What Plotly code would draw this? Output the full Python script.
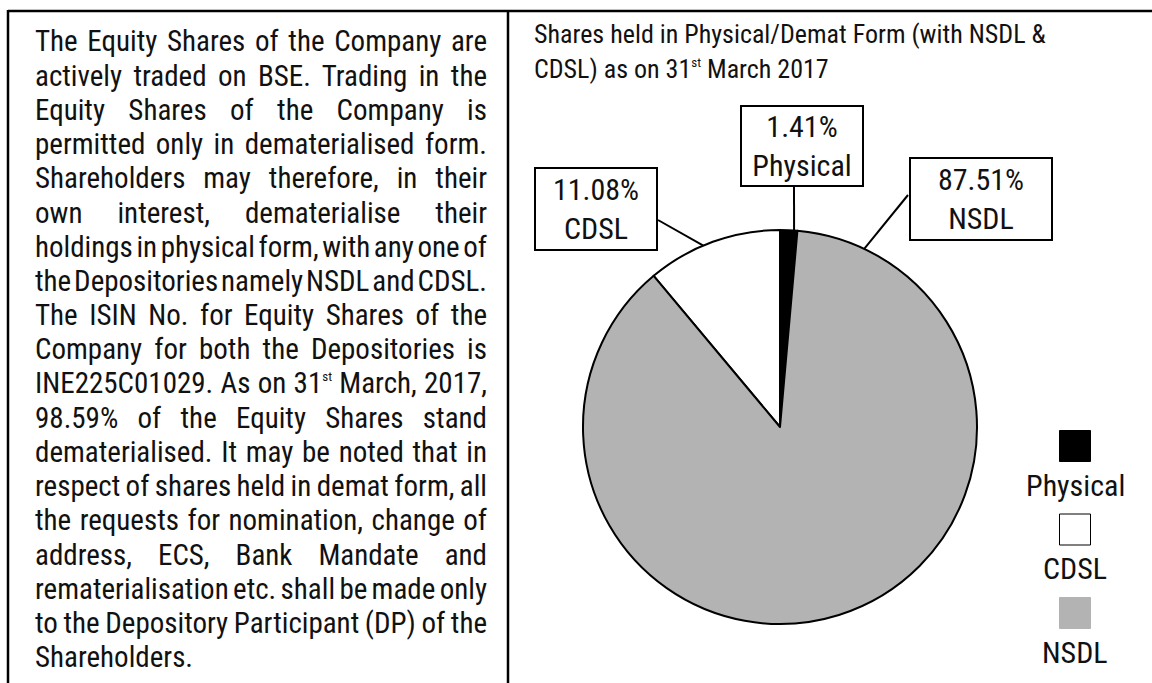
import json
import math
import plotly.graph_objects as go

# ---------------- data ----------------
labels = ["Physical", "CDSL", "NSDL"]
values = [1.41, 11.08, 87.51]
colors = ["#000000", "#ffffff", "#b3b3b3"]

SUP = '<sup><span style="font-size:13px">st</span></sup>'

title_lines = [
    "Shares held in Physical/Demat Form (with NSDL &",
    "CDSL) as on 31" + SUP + " March 2017",
]

body_lines = [
    "The Equity Shares of the Company are",
    "actively traded on BSE. Trading in the",
    "Equity Shares of the Company is",
    "permitted only in dematerialised form.",
    "Shareholders may therefore, in their",
    "own interest, dematerialise their",
    "holdings in physical form, with any one of",
    "the Depositories namely NSDL and CDSL.",
    "The ISIN No. for Equity Shares of the",
    "Company for both the Depositories is",
    "INE225C01029. As on 31" + SUP + " March, 2017,",
    "98.59% of the Equity Shares stand",
    "dematerialised. It may be noted that in",
    "respect of shares held in demat form, all",
    "the requests for nomination, change of",
    "address, ECS, Bank Mandate and",
    "rematerialisation etc. shall be made only",
    "to the Depository Participant (DP) of the",
    "Shareholders.",
]

# ---------------- layout constants (pixels) ----------------
W, H = 1152, 683
FONT = "Liberation Sans Narrow, Roboto Condensed, DejaVu Sans Condensed, Arial Narrow, sans-serif"
INK = "#111111"

PIE_CX, PIE_CY, PIE_R = 780, 427, 197
# label boxes: centre x, centre y, outer width, outer height, leader start (x, y), leader angle (deg clockwise from top)
BOXES = {
    "Physical": dict(cx=802, cy=146, w=124, h=82, sx=794, sy=187, ang=4.1),
    "NSDL": dict(cx=981, cy=199, w=144, h=84, sx=908, sy=195, ang=25.3),
    "CDSL": dict(cx=596, cy=209, w=124, h=84, sx=658, sy=220, ang=-22.9),
}


def px(x):
    return x / W


def py(y):
    return 1 - y / H


fig = go.Figure()

fig.add_trace(go.Pie(
    labels=labels,
    values=values,
    sort=False,
    direction="counterclockwise",
    rotation=0,
    textinfo="none",
    hoverinfo="label+percent",
    marker=dict(colors=colors, line=dict(color="#000000", width=2)),
    domain=dict(x=[px(PIE_CX - PIE_R), px(PIE_CX + PIE_R)],
                y=[py(PIE_CY + PIE_R), py(PIE_CY - PIE_R)]),
    showlegend=False,
))

shapes = []
annotations = []

# frame lines
line_style = dict(color="#000000", width=2.5)
shapes.append(dict(type="line", xref="paper", yref="paper",
                   x0=px(8), x1=px(W), y0=py(11), y1=py(11), line=line_style))
shapes.append(dict(type="line", xref="paper", yref="paper",
                   x0=px(8), x1=px(8), y0=py(10), y1=py(H), line=line_style))
shapes.append(dict(type="line", xref="paper", yref="paper",
                   x0=px(508), x1=px(508), y0=py(10), y1=py(H), line=line_style))

# left justified text block
LEFT_X, RIGHT_X = 34, 486
LINE0, LINE_STEP = 41.5, 34.2
justify_idx = []
for i, ln in enumerate(body_lines):
    if i < len(body_lines) - 1:
        justify_idx.append(len(annotations))
    annotations.append(dict(
        xref="paper", yref="paper", x=px(LEFT_X), y=py(LINE0 + i * LINE_STEP),
        xanchor="left", yanchor="middle", align="left", showarrow=False,
        text=ln, font=dict(family=FONT, size=29, color=INK), borderpad=0,
    ))

# chart title
for i, ln in enumerate(title_lines):
    annotations.append(dict(
        xref="paper", yref="paper", x=px(533), y=py(34 + i * 35),
        xanchor="left", yanchor="middle", align="left", showarrow=False,
        text=ln, font=dict(family=FONT, size=26, color=INK), borderpad=0,
    ))

# data label boxes with leader lines
for lab, val in zip(labels, values):
    b = BOXES[lab]
    a = math.radians(b["ang"])
    tx = PIE_CX + PIE_R * math.sin(a)
    ty = PIE_CY - PIE_R * math.cos(a)
    shapes.append(dict(type="line", xref="paper", yref="paper",
                       x0=px(b["sx"]), y0=py(b["sy"]), x1=px(tx), y1=py(ty),
                       line=dict(color="#000000", width=2)))
    annotations.append(dict(
        xref="paper", yref="paper", x=px(b["cx"]), y=py(b["cy"]),
        xanchor="center", yanchor="middle", showarrow=False,
        text=f"{val:.2f}%<br>{lab}", font=dict(family=FONT, size=30, color=INK),
        bordercolor="#000000", borderwidth=2, borderpad=0, bgcolor="#ffffff",
        width=b["w"] - 4, height=b["h"] - 4, align="center", valign="middle",
    ))

# legend (square above label, stacked)
LEG_X, LEG_Y0, LEG_STEP, SQ = 1075, 446, 83.5, 31
for i, (lab, col) in enumerate(zip(labels, colors)):
    cy = LEG_Y0 + i * LEG_STEP
    border = "#000000" if col != "#b3b3b3" else col
    shapes.append(dict(type="rect", xref="paper", yref="paper",
                       x0=px(LEG_X - SQ / 2), x1=px(LEG_X + SQ / 2),
                       y0=py(cy + SQ / 2), y1=py(cy - SQ / 2),
                       fillcolor=col, line=dict(color=border, width=1)))
    annotations.append(dict(
        xref="paper", yref="paper", x=px(LEG_X), y=py(cy + 39),
        xanchor="center", yanchor="middle", showarrow=False,
        text=lab, font=dict(family=FONT, size=30, color=INK), borderpad=0,
    ))

fig.update_layout(
    width=W, height=H,
    margin=dict(l=0, r=0, t=0, b=0),
    paper_bgcolor="#ffffff", plot_bgcolor="#ffffff",
    shapes=shapes, annotations=annotations,
    showlegend=False,
)

post = """
document.body.style.margin = '0';
var gd = document.getElementById('{plot_id}');
var idx = %s;
var target = %f;
idx.forEach(function(i) {
  var t = gd.querySelector('.annotation[data-index="' + i + '"] text.annotation-text');
  if (!t) return;
  var s = t.textContent;
  var n = (s.match(/ /g) || []).length;
  if (!n) return;
  var L = t.getComputedTextLength();
  t.style.wordSpacing = ((target - L) / n) + 'px';
});
""" % (json.dumps(justify_idx), RIGHT_X - LEFT_X)

fig.write_html("out.html", config={"displayModeBar": False, "responsive": False},
               post_script=post)
